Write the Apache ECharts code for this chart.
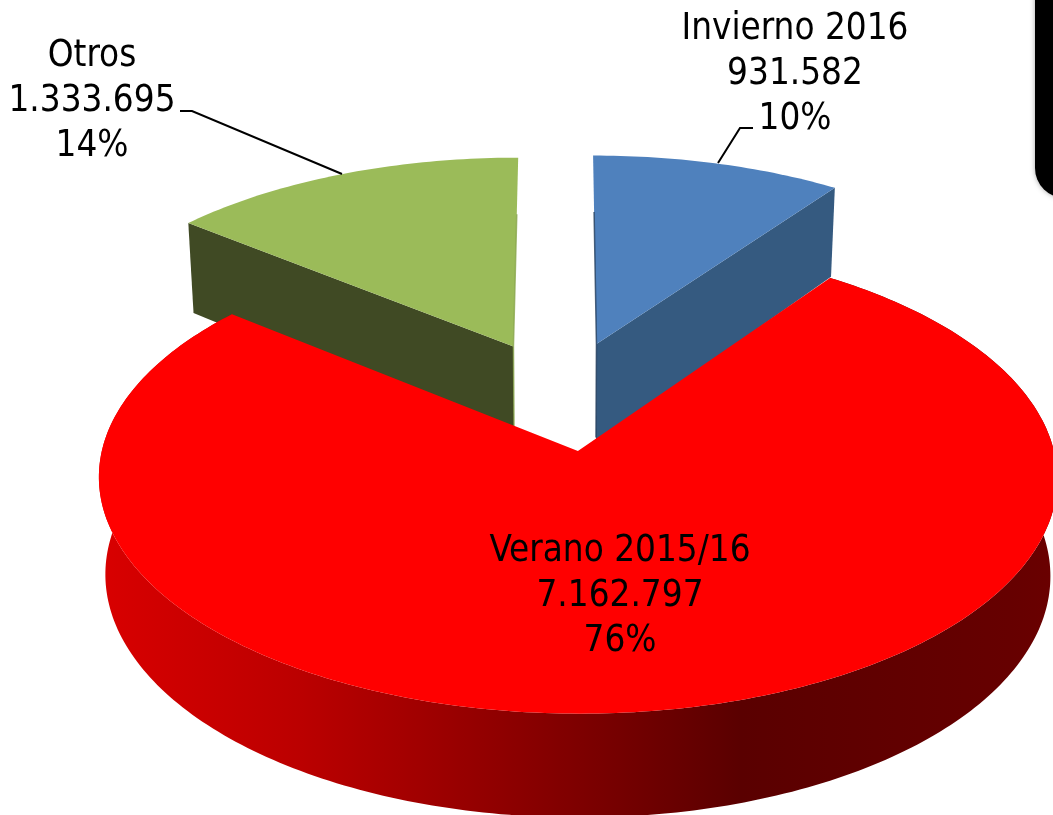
<!DOCTYPE html>
<html>
<head>
<meta charset="utf-8">
<style>html,body{margin:0;padding:0;background:#fff;overflow:hidden}#c{width:1053px;height:815px}</style>
<script src="https://cdn.jsdelivr.net/npm/echarts@6/dist/echarts.min.js"></script>
</head>
<body>
<div id="c"></div>
<script>
// ---- data
var categories = ['Invierno 2016', 'Verano 2015/16', 'Otros'];
var values = [931582, 7162797, 1333695];
var percents = ['10%', '76%', '14%'];

// ---- styles
var topColors = ['#4f81bd', '#ff0000', '#9bbb59'];
var faceColors = ['#355a80', '#8c0000', '#404a24'];
var edgeColors = ['#243f5e', '#8c0000', '#8aa64e'];
var layerOrder = [2, 3, 1];

// ---- label layout
var labelSpots = [
  { x: 795, y: 75 },
  { x: 620, y: 597 },
  { x: 92, y: 102 }
];
var leaders = [
  [[753, 128], [740, 128], [718, 163]],
  null,
  [[180, 111], [192, 111], [342, 174]]
];

// ---- perspective of the pie plane
var view = { cx: 562, cy: 395, rx: 463, ry: 220, k: 0.111, explode: 0.25, depth: 95, shrink: 0.986 };

var total = values.reduce(function (a, b) { return a + b; }, 0);
var TAU = Math.PI * 2;

function project(X, Y) {
  var w = 1 + view.k * Y;
  return [view.cx + view.rx * X / w, view.cy - view.ry * Y / w, w];
}
function lower(p) {
  return [view.cx + (p[0] - view.cx) * view.shrink, p[1] + view.depth / Math.pow(p[2], 0.6)];
}
function flat(p) { return [p[0], p[1]]; }
function mix(a, b, t) { return [a[0] * (1 - t) + b[0] * t, a[1] * (1 - t) + b[1] * t]; }
function fmt(v) { return String(v).replace(/\B(?=(\d{3})+(?!\d))/g, '.'); }

function sliceGeometry(i) {
  var before = 0;
  for (var j = 0; j < i; j++) before += values[j];
  var a0 = before / total * TAU;
  var a1 = (before + values[i]) / total * TAU;
  var mid = (a0 + a1) / 2;
  var ox = view.explode * Math.sin(mid);
  var oy = view.explode * Math.cos(mid);
  var arc = [];
  var steps = Math.max(24, Math.round((a1 - a0) * 60));
  for (var s = 0; s <= steps; s++) {
    var t = a0 + (a1 - a0) * s / steps;
    arc.push(project(ox + Math.sin(t), oy + Math.cos(t)));
  }
  return { apex: project(ox, oy), arc: arc };
}

function renderSlice(params, api) {
  var i = api.value(0);
  var g = sliceGeometry(i);
  var kids = [];
  var z = layerOrder[i] * 10;
  var first = g.arc[0];
  var last = g.arc[g.arc.length - 1];

  if (i === 1) {
    // curved outer wall of the front slice
    var outer = g.arc.map(flat).concat(g.arc.slice().reverse().map(lower));
    kids.push({
      type: 'polygon', z2: z,
      shape: { points: outer },
      style: {
        fill: new echarts.graphic.LinearGradient(0, 0, 1, 0, [
          { offset: 0, color: '#d90000' },
          { offset: 0.034, color: '#d40000' },
          { offset: 0.21, color: '#bb0000' },
          { offset: 0.49, color: '#800000' },
          { offset: 0.67, color: '#5a0000' },
          { offset: 0.95, color: '#660000' },
          { offset: 1, color: '#6a0000' }
        ])
      }
    });
  } else {
    // radial cut face that looks towards the viewer; runs a little under the front slice
    var corner = i === 0 ? last : first;
    var foot = lower(g.apex);
    kids.push({
      type: 'polygon', z2: z,
      shape: { points: [flat(g.apex), flat(corner), lower(corner), [foot[0], foot[1] + 5]] },
      style: { fill: faceColors[i] }
    });
    // thin inner edge beside the central gap
    var inner = i === 0 ? first : last;
    kids.push({
      type: 'polyline', z2: z + 3,
      shape: { points: [mix(inner, g.apex, 0.3), flat(g.apex), foot] },
      style: { fill: 'none', stroke: edgeColors[i], lineWidth: 1.5, opacity: 0.8 }
    });
  }

  kids.push({
    type: 'polygon', z2: z + 2,
    shape: { points: [flat(g.apex)].concat(g.arc.map(flat)) },
    style: { fill: topColors[i] }
  });

  if (leaders[i]) {
    kids.push({
      type: 'polyline', z2: 50,
      shape: { points: leaders[i] },
      style: { fill: 'none', stroke: '#000', lineWidth: 2 }
    });
  }
  kids.push({
    type: 'text', z2: 60,
    x: labelSpots[i].x, y: labelSpots[i].y,
    style: {
      text: categories[i] + '\n' + fmt(values[i]) + '\n' + percents[i],
      fill: '#000',
      font: '36.5px "DejaVu Sans Condensed", "Noto Sans"',
      lineHeight: 45,
      align: 'center',
      verticalAlign: 'middle'
    }
  });
  return { type: 'group', children: kids };
}

var chart = echarts.init(document.getElementById('c'), null, { renderer: 'canvas' });
chart.setOption({
  animation: false,
  backgroundColor: '#ffffff',
  graphic: [{
    type: 'rect', z: 5,
    shape: { x: 1035, y: -60, width: 80, height: 258, r: 30 },
    style: { fill: '#000', shadowColor: 'rgba(0,0,0,0.35)', shadowBlur: 5 }
  }],
  series: [{
    type: 'custom',
    coordinateSystem: 'none',
    silent: true,
    clip: false,
    renderItem: renderSlice,
    data: categories.map(function (c, i) { return { name: c, value: [i, values[i]] }; })
  }]
});
</script>
</body>
</html>
